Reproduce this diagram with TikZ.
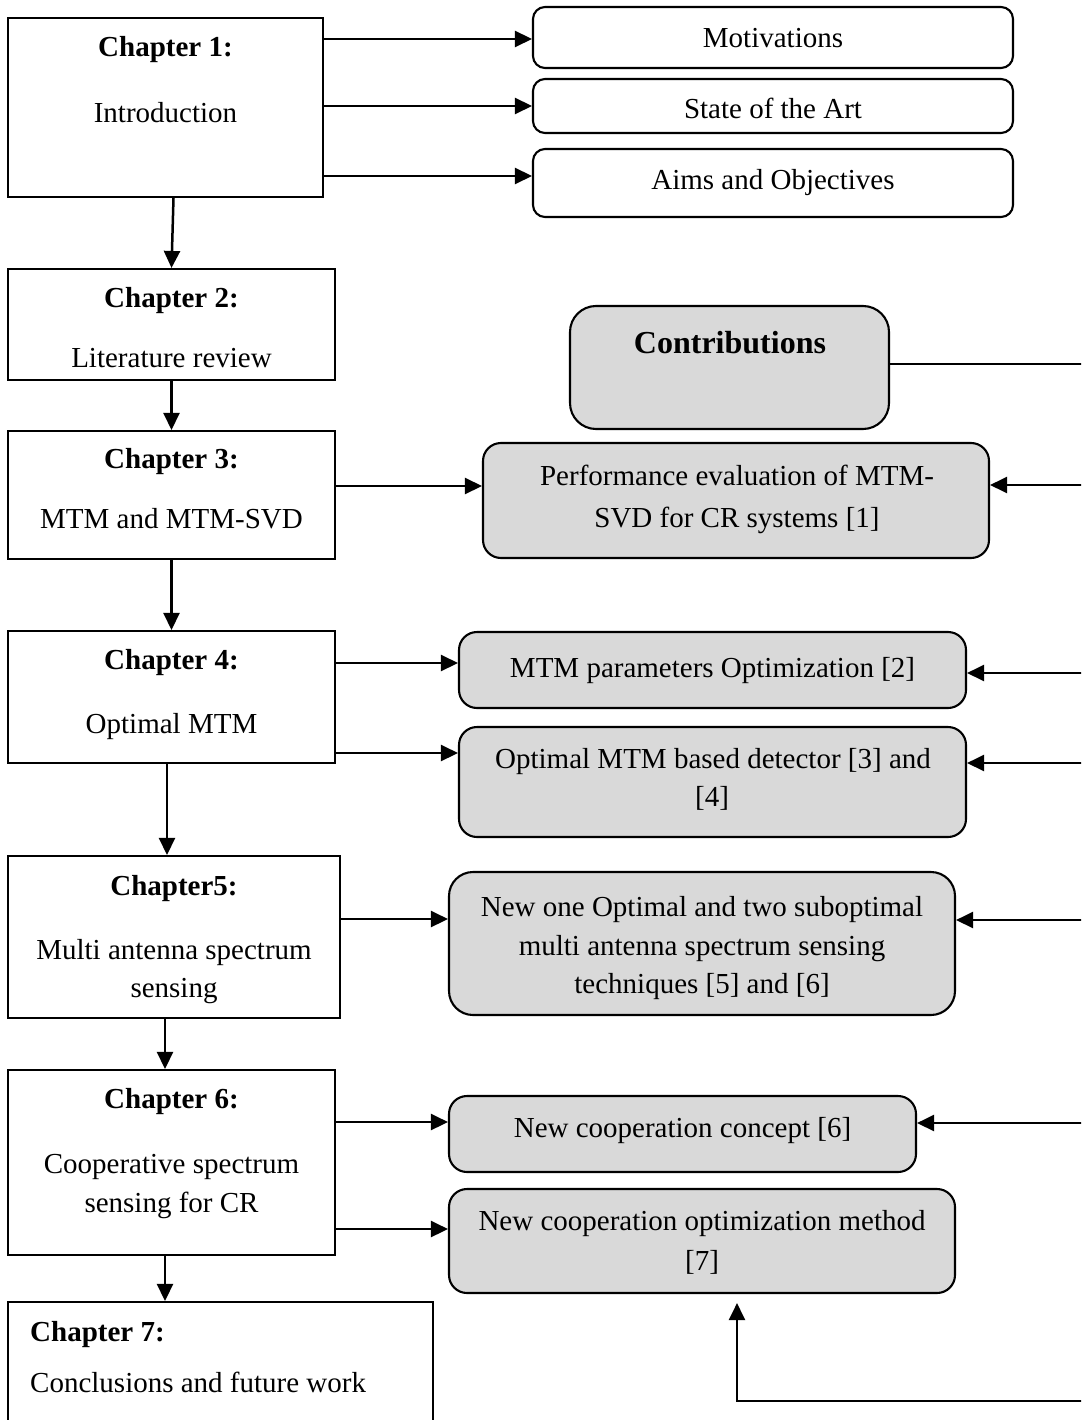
\documentclass[tikz,border=0pt]{standalone}
\usepackage{fontspec}
\setmainfont{Liberation Serif}
\usetikzlibrary{arrows.meta}
\definecolor{boxgray}{HTML}{D9D9D9}
\begin{document}
\begin{tikzpicture}[x=1pt,y=-1pt,
  chapbox/.style={draw, line width=2.1pt, rectangle, inner sep=0pt},
  topicbox/.style={draw, line width=2.1pt, rounded corners=12pt, inner sep=0pt},
  contribbox/.style={draw, line width=2.1pt, fill=boxgray, rounded corners=18pt, inner sep=0pt},
  txt/.style={font=\fontsize{29}{39}\selectfont, inner sep=0pt, anchor=base},
  head/.style={font=\fontsize{29}{39}\selectfont\bfseries, inner sep=0pt, anchor=base},
  link/.style={line width=2.5pt, -{Triangle[length=17pt,width=16pt]}},
]
\useasboundingbox (0,0) rectangle (1081,1420);
\clip (0,0) rectangle (1081,1420);

% chapter column
\node[chapbox, minimum width=315pt, minimum height=179pt] (ch1) at (165.5,107.5) {};
\node[chapbox, minimum width=327pt, minimum height=111pt] (ch2) at (171.5,324.5) {};
\node[chapbox, minimum width=327pt, minimum height=128pt] (ch3) at (171.5,495) {};
\node[chapbox, minimum width=327pt, minimum height=132pt] (ch4) at (171.5,697) {};
\node[chapbox, minimum width=332pt, minimum height=162pt] (ch5) at (174,937) {};
\node[chapbox, minimum width=327pt, minimum height=185pt] (ch6) at (171.5,1162.5) {};
\node[chapbox, minimum width=425pt, minimum height=138pt] (ch7) at (220.5,1371) {};

% introduction topics
\node[topicbox, minimum width=480pt, minimum height=61pt] (mot) at (773,37.5) {};
\node[topicbox, minimum width=480pt, minimum height=54pt] (art) at (773,106) {};
\node[topicbox, minimum width=480pt, minimum height=68pt] (aims) at (773,183) {};

% contributions
\node[contribbox, rounded corners=26pt, minimum width=319pt, minimum height=123pt] (contrib) at (729.5,367.5) {};
\node[contribbox, minimum width=506pt, minimum height=115pt] (perf) at (736,500.5) {};
\node[contribbox, minimum width=507pt, minimum height=76pt] (mtmp) at (712.5,670) {};
\node[contribbox, minimum width=507pt, minimum height=110pt] (optd) at (712.5,782) {};
\node[contribbox, rounded corners=24pt, minimum width=506pt, minimum height=143pt] (newone) at (702,943.5) {};
\node[contribbox, minimum width=467pt, minimum height=76pt] (concept) at (682.5,1134) {};
\node[contribbox, minimum width=506pt, minimum height=104pt] (coopt) at (702,1241) {};

% texts of the chapter boxes
\node[head] (c1h) at (165.5,57) {Chapter 1:};
\node[txt]  (c1t) at (165.5,123) {Introduction};
\node[head] (c2h) at (171.5,307) {Chapter 2:};
\node[txt]  (c2t) at (171.5,367) {Literature review};
\node[head] (c3h) at (171.5,468) {Chapter 3:};
\node[txt]  (c3t) at (171.5,528) {MTM and MTM-SVD};
\node[head] (c4h) at (171.5,669) {Chapter 4:};
\node[txt]  (c4t) at (171.5,733) {Optimal MTM};
\node[head] (c5h) at (174,895) {Chapter5:};
\node[txt]  (c5t) at (174,959) {Multi antenna spectrum};
\node[txt]  (c5u) at (174,997) {sensing};
\node[head] (c6h) at (171.5,1108) {Chapter 6:};
\node[txt]  (c6t) at (171.5,1173) {Cooperative spectrum};
\node[txt]  (c6u) at (171.5,1212) {sensing for CR};
\node[head, anchor=base west] (c7h) at (30,1341) {Chapter 7:};
\node[txt, anchor=base west]  (c7t) at (30,1392) {Conclusions and future work};

% texts of the topic and contribution boxes
\node[txt] (motT) at (773,48) {Motivations};
\node[txt] (artT) at (773,119) {State of the Art};
\node[txt] (aimsT) at (773,190) {Aims and Objectives};
\node[font=\fontsize{32}{38}\selectfont\bfseries, inner sep=0pt, anchor=base] (contribT) at (730,353) {Contributions};
\node[txt] (perfT) at (737,485) {Performance evaluation of MTM-};
\node[txt] (perfU) at (737,527) {SVD for CR systems [1]};
\node[txt] (mtmpT) at (712.5,677) {MTM parameters Optimization [2]};
\node[txt] (optdT) at (713,768) {Optimal MTM based detector [3] and};
\node[txt] (optdU) at (712,806) {[4]};
\node[txt] (newT) at (702,916) {New one Optimal and two suboptimal};
\node[txt] (newU) at (702,955) {multi antenna spectrum sensing};
\node[txt] (newV) at (702,993) {techniques [5] and [6]};
\node[txt] (conT) at (682.5,1137) {New cooperation concept [6]};
\node[txt] (coT) at (702,1230) {New cooperation optimization method};
\node[txt] (coU) at (702,1270) {[7]};

% chapter sequence
\draw[link] ([xshift=8pt]ch1.south) -- (ch2.north);
\draw[link] (ch2.south) -- (ch3.north);
\draw[link] (ch3.south) -- (ch4.north);
\draw[link] ([xshift=-4.5pt]ch4.south) -- ([xshift=-4.5pt]ch4.south |- ch5.north);
\draw[link] ([xshift=-9pt]ch5.south) -- ([xshift=-9pt]ch5.south |- ch6.north);
\draw[link] ([xshift=-6.5pt]ch6.south) -- ([xshift=-6.5pt]ch6.south |- ch7.north);

% chapters to their topics
\draw[link] (ch1.east |- 0,39) -- (mot.west |- 0,39);
\draw[link] (ch1.east |- 0,106) -- (art.west |- 0,106);
\draw[link] (ch1.east |- 0,176) -- (aims.west |- 0,176);
\draw[link] (ch3.east |- 0,486) -- (perf.west |- 0,486);
\draw[link] (ch4.east |- 0,663) -- (mtmp.west |- 0,663);
\draw[link] (ch4.east |- 0,753) -- (optd.west |- 0,753);
\draw[link] (ch5.east |- 0,919) -- (newone.west |- 0,919);
\draw[link] (ch6.east |- 0,1122) -- (concept.west |- 0,1122);
\draw[link] (ch6.east |- 0,1229) -- (coopt.west |- 0,1229);

% contributions bus along the right edge
\coordinate (rc) at (1090,364);
\coordinate (r1) at (1090,485);
\coordinate (r2) at (1090,673);
\coordinate (r3) at (1090,763);
\coordinate (r4) at (1090,920);
\coordinate (r5) at (1090,1123);
\coordinate (rb) at (1090,1401);
\draw[line width=1.6pt] (contrib.east |- rc) -- (rc);
\draw[link] (r1) -- (r1 -| perf.east);
\draw[link] (r2) -- (r2 -| mtmp.east);
\draw[link] (r3) -- (r3 -| optd.east);
\draw[link] (r4) -- (r4 -| newone.east);
\draw[link] (r5) -- (r5 -| concept.east);
\draw[link, line width=2.2pt, shorten >=9pt] (rb) -| ([xshift=35pt]coopt.south);
\end{tikzpicture}
\end{document}
